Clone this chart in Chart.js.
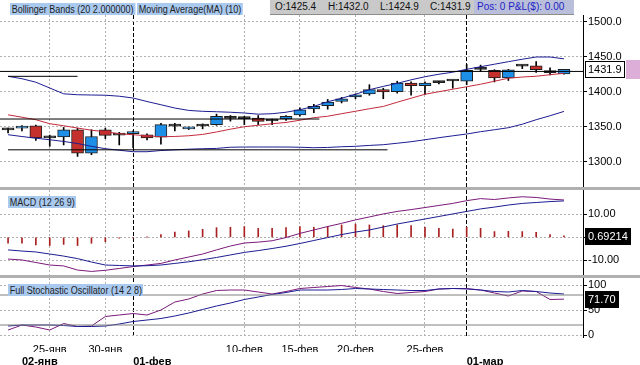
<!DOCTYPE html>
<html>
<head>
<meta charset="utf-8">
<script src="https://cdn.jsdelivr.net/npm/chart.js@4.4.0/dist/chart.umd.min.js"></script>
<style>
body { margin: 0; background: #fff; width: 640px; height: 365px; overflow: hidden; position: relative; font-family: 'Liberation Sans', Arial, sans-serif; }
canvas { position: absolute; left: 0; }
.tag { position: absolute; background: #a9c9ef; color: #1e1e1e; font: 11px 'Liberation Sans', Arial, sans-serif; line-height: 12px; padding: 0 2px; white-space: nowrap; transform: scaleX(0.82); transform-origin: 0 0; }
.sep { position: absolute; left: 0; width: 640px; height: 3px; background: #b0b0b0; }
#ohlc { position: absolute; left: 270px; top: 0; width: 204px; height: 14px; background: #c9c9c9; border-bottom: 1px solid #8c8c8c; }
#ohlc span { position: absolute; top: 1px; font-size: 10px; line-height: 12px; color: #111; }
#pos { position: absolute; left: 474px; top: 0; width: 97px; height: 14px; padding-left: 3px; background: #b9bedb; border-bottom: 1px solid #8c8c8c; color: #1d1dc2; font-size: 10px; line-height: 14px; }
</style>
</head>
<body>
<canvas id="price" width="640" height="172" style="top:15px"></canvas>
<div class="sep" style="top:187px"></div>
<canvas id="macd" width="640" height="85" style="top:190px"></canvas>
<div class="sep" style="top:275px"></div>
<canvas id="stoch" width="640" height="87" style="top:278px"></canvas>

<div class="tag" style="left:10px;top:3px">Bollinger Bands (20 2.000000)</div>
<div class="tag" style="left:137px;top:3px">Moving Average(MA) (10)</div>
<div id="ohlc"><span id="o" style="left:5px"></span><span id="h" style="left:58px"></span><span id="l" style="left:110px"></span><span id="c" style="left:160px"></span></div>
<div id="pos">Pos: 0 P&amp;L($): 0.00</div>
<div class="tag" style="left:8px;top:196px">MACD (12 26 9)</div>
<div class="tag" style="left:8px;top:284px">Full Stochastic Oscillator (14 2 8)</div>

<script>
// daily bars, index 0 = 21 Jan
const opens  = [1345.5, 1348, 1351.4, 1334, 1335.3, 1345.7, 1312.4, 1345.7, 1338, 1340.2,
                1338.6, 1335, 1350.8, 1347, 1351, 1353, 1362, 1361.6, 1362.4, 1358.2,
                1361, 1367, 1375.3, 1380, 1386, 1392.4, 1396.7, 1402.9, 1400, 1412.4,
                1408.6, 1413, 1415.3, 1415, 1432, 1430.5, 1419.6, 1436.5, 1437, 1427.2, 1425.4];
const highs  = [1348, 1351.5, 1352.5, 1338, 1349, 1348, 1345.7, 1348, 1342, 1344,
                1340, 1355, 1355, 1349.5, 1354, 1368, 1366, 1365, 1366, 1361,
                1366, 1377, 1382, 1389, 1392, 1397, 1410, 1405, 1415, 1414,
                1414, 1415, 1416.5, 1439, 1438, 1431.5, 1432, 1438, 1443, 1434, 1432];
const lows   = [1341, 1344, 1330.5, 1322, 1324, 1307.6, 1310, 1333, 1324, 1320,
                1331, 1325, 1344, 1346, 1347, 1352, 1358, 1353, 1353, 1353,
                1359, 1365, 1370, 1375, 1384, 1390, 1395, 1390, 1398, 1395,
                1396, 1411, 1405, 1410, 1429, 1414, 1416, 1433, 1427.6, 1424, 1424.9];
const closes = [1346.5, 1350.5, 1334, 1334.8, 1345.7, 1312.4, 1336, 1337.6, 1338.6, 1341.5,
                1334, 1353, 1351.8, 1349, 1351.6, 1365, 1363, 1362.4, 1357.6, 1359,
                1364.7, 1374.3, 1379, 1385.3, 1390, 1395.7, 1402.9, 1399.6, 1412.4, 1408.6,
                1412.4, 1414, 1416, 1430.5, 1432.8, 1419.6, 1431.4, 1437.5, 1431.4, 1428, 1431.9];

const bbUpper = [1422, 1418.6, 1413.6, 1405.3, 1397, 1395.7, 1395.3, 1395, 1393.6, 1391,
                 1386, 1381.4, 1376.7, 1373.3, 1372, 1371.4, 1370.7, 1369.6, 1367.9, 1368.6,
                 1370.7, 1374.3, 1379, 1385.7, 1390.7, 1396.4, 1402.9, 1407.6, 1412, 1417,
                 1421.4, 1425, 1427.9, 1432, 1435.7, 1439.3, 1442.9, 1446.4, 1449.6, 1449.6, 1447];
const bbLower = [1338.6, 1336, 1333.6, 1331.4, 1329, 1326, 1322, 1318.6, 1316.4, 1314.3,
                 1314.3, 1316, 1317, 1317.9, 1318.6, 1319, 1320.7, 1321, 1321, 1321,
                 1321, 1320.7, 1320, 1320.4, 1321.4, 1322, 1323.3, 1324.3, 1326.4, 1328.6,
                 1331.4, 1334.3, 1337, 1339.6, 1342.9, 1345.7, 1348.6, 1353.6, 1360, 1365.7, 1371.9];
const ma10    = [1367, 1363.6, 1360, 1354.3, 1351.4, 1348.1, 1345, 1342.9, 1340, 1338.6,
                 1337.1, 1335.7, 1336.1, 1337.1, 1339, 1342.5, 1346.5, 1350, 1352.1, 1354.3,
                 1356.1, 1359.3, 1362.9, 1365, 1368.6, 1372.1, 1375.7, 1379, 1385, 1390.7,
                 1396.4, 1400, 1403.6, 1407.1, 1410.7, 1415, 1419.3, 1421, 1422.1, 1424.3, 1426.4];

// drawn horizontal lines: price level, first and last bar index
const levelPrices = [1429, 1422, 1361, 1317];
const levelFrom   = [-0.58, 0, -0.58, 0];
const levelTo     = [41.37, 5, 22.4, 27.3];

const macdLine   = [-9.5, -9.9, -11, -12.1, -12.5, -14.3, -14.9, -14.4, -13.6, -12.8,
                    -12.1, -11.4, -9.9, -8.6, -7.3, -5.5, -3.8, -2.5, -2.1, -1.5,
                    -0.1, 1.7, 3.2, 4.7, 6.1, 7.6, 8.9, 10.2, 11.3, 12.1,
                    13.0, 13.9, 14.8, 16.0, 16.9, 16.5, 17.2, 17.7, 17.4, 16.7, 16.3];
const signalLine = [-5.5, -6.0, -6.4, -7.3, -8.2, -9.3, -10.8, -12.1, -12.3, -12.5,
                    -12.4, -12.1, -11.4, -10.7, -9.8, -8.8, -7.7, -6.6, -5.8, -4.9,
                    -3.9, -2.7, -1.4, -0.1, 1.2, 2.3, 3.2, 4.5, 5.8, 6.9,
                    8.0, 9.1, 10.2, 11.3, 12.4, 13.2, 14.1, 14.8, 15.2, 15.6, 15.9];
const macdHist   = [-2.6, -2.6, -3.3, -3.6, -3.1, -3.6, -2.6, -1.9, -0.4, -0.1,
                    0.1, 1.2, 2.3, 2.8, 3.5, 4.2, 4.4, 4.7, 3.9, 3.9,
                    4.2, 4.7, 4.4, 4.8, 5.4, 5.8, 5.4, 5.1, 5.4, 5.1,
                    4.4, 3.9, 3.6, 4.4, 3.9, 2.5, 2.6, 2.5, 2.2, 1.2, 0.69214];

const stochK = [10, 20, 16, 10, 23, 17, 18, 37, 40, 43, 40, 50, 66, 72, 82, 89, 90, 90, 86, 82,
                87, 93, 95, 97, 99, 95, 92, 87, 83, 85, 87, 92, 93, 93, 90, 84, 78, 88, 87, 71, 71.7];
const stochD = [18, 20, 20, 20, 19, 17, 17, 18, 22, 27, 30, 33, 38, 44, 51, 58, 64, 71, 76, 81,
                85, 90, 90, 90, 91, 93, 92, 91, 90, 89, 89, 92, 93, 92, 90, 87, 86, 89, 87, 84, 82];
const stochLevels = [20, 80];

const priceTicks = [1300, 1350, 1400, 1450, 1500];
const macdTicks  = [-10, 0, 10];
const stochTicks = [0, 50, 100];

const gridIdx  = [3, 7, 9, 17, 21, 25, 30, 33];
const monthIdx = [9, 33];
const dateTickIdx    = [3, 7, 17, 21, 25, 30];
const dateTickLabels = ['25-янв', '30-янв', '10-фев', '15-фев', '20-фев', '25-фев'];
const monthTickIdx    = [1, 9, 33];
const monthTickLabels = ['02-янв', '01-фев', '01-мар'];

const xMin = -0.58, xMax = 41.37;
const last = closes.length - 1;

document.getElementById('o').textContent = 'O:' + opens[last].toFixed(1);
document.getElementById('h').textContent = 'H:' + highs[last].toFixed(1);
document.getElementById('l').textContent = 'L:' + lows[last].toFixed(1);
document.getElementById('c').textContent = 'C:' + closes[last].toFixed(1);

Chart.defaults.font.family = "'Liberation Sans', Arial, sans-serif";
Chart.defaults.font.size = 11;
Chart.defaults.color = '#000';
Chart.defaults.animation = false;
Chart.defaults.plugins.legend.display = false;
Chart.defaults.plugins.tooltip.enabled = false;
Chart.defaults.elements.point.radius = 0;
Chart.defaults.elements.line.borderWidth = 1;
Chart.defaults.elements.line.tension = 0;

const idx = closes.map((_, i) => i);
const pts = arr => arr.map((v, i) => ({x: i, y: v}));
const isMonth = c => !!(c.tick && monthIdx.includes(c.tick.value));
const noPad = s => { s.paddingTop = 0; s.paddingBottom = 0; s.paddingLeft = 0; s.paddingRight = 0; };

function candleColor(i) {
    let d = closes[i] - opens[i];
    if (Math.abs(d) <= 1) return '#101010';
    return d > 0 ? '#1e8fe6' : '#c6302c';
}

function xScale(extra) {
    return Object.assign({
        type: 'linear', min: xMin, max: xMax, offset: false,
        afterBuildTicks: s => { s.ticks = gridIdx.map(v => ({value: v})); },
        ticks: {display: false},
        grid: {color: c => isMonth(c) ? '#000' : '#b0b0b0', drawTicks: false, offset: false},
        border: {display: false, dash: c => isMonth(c) ? [4, 2] : [2, 2]},
        afterFit: s => { s.height = 0; noPad(s); }
    }, extra);
}

function yScale(min, max, ticks, fmt) {
    return {
        position: 'right', min: min, max: max,
        afterBuildTicks: s => { s.ticks = ticks.map(v => ({value: v})); },
        afterFit: s => { s.width = 57; noPad(s); },
        ticks: {callback: fmt, padding: 1, font: {size: 11}},
        grid: {color: '#b0b0b0', tickColor: '#000', tickLength: 4},
        border: {color: '#000', dash: [2, 2]}
    };
}

function lineSet(arr, color) {
    return {type: 'line', data: pts(arr), borderColor: color, order: -1};
}

function flatLine(level, from, to, color) {
    return {type: 'line', data: [{x: from, y: level}, {x: to, y: level}], borderColor: color, order: -2};
}

const valueBox = {
    id: 'valueBox',
    afterDraw(chart, args, o) {
        if (!o.text) return;
        let ctx = chart.ctx;
        let ys = chart.scales.y;
        let y = Math.round(ys.getPixelForValue(o.value));
        let x = ys.left + 2;
        ctx.save();
        ctx.font = "11px 'Liberation Sans', Arial";
        let w = Math.round(ctx.measureText(o.text).width) + 6;
        ctx.fillStyle = o.bg;
        ctx.fillRect(x, y - 8, w, 17);
        if (o.frame) {
            ctx.strokeStyle = '#000';
            ctx.lineWidth = 1;
            ctx.strokeRect(x + 0.5, y - 7.5, w - 1, 16);
        }
        if (o.tail) {
            ctx.fillStyle = o.tail;
            ctx.fillRect(x + w + 1, y - 9, chart.width - x - w - 1, 19);
        }
        ctx.fillStyle = o.color;
        ctx.textBaseline = 'middle';
        ctx.fillText(o.text, x + 3, y + 1);
        ctx.restore();
    }
};

const baseOpts = {responsive: false, maintainAspectRatio: false, layout: {padding: 0}};

new Chart(document.getElementById('price'), {
    type: 'bar',
    plugins: [valueBox],
    data: {
        datasets: [
            lineSet(bbUpper, '#1c1c92'),
            lineSet(bbLower, '#1c1c92'),
            lineSet(ma10, '#c42a3a'),
            ...levelPrices.map((p, k) => flatLine(p, levelFrom[k], levelTo[k], '#000')),
            {
                data: idx.map(i => ({x: i, y: [opens[i], closes[i]]})),
                backgroundColor: idx.map(candleColor), borderColor: '#1e1e1e', borderWidth: 1,
                borderSkipped: false, barThickness: 12, minBarLength: 2, grouped: false, order: 0
            },
            {
                data: idx.map(i => ({x: i, y: [lows[i], highs[i]]})),
                backgroundColor: '#000', barThickness: 1, grouped: false, order: 1
            }
        ]
    },
    options: Object.assign({}, baseOpts, {
        scales: {
            x: xScale(),
            y: yScale(1263.9, 1509.6, priceTicks, v => v.toFixed(1))
        },
        plugins: {valueBox: {value: closes[last], text: closes[last].toFixed(1), bg: '#fff', color: '#000', frame: true, tail: '#dcaed8'}}
    })
});

new Chart(document.getElementById('macd'), {
    type: 'bar',
    plugins: [valueBox],
    data: {
        datasets: [
            lineSet(signalLine, '#1c1c92'),
            lineSet(macdLine, '#7a1a7a'),
            {data: pts(macdHist), backgroundColor: '#a82020', barThickness: 1, grouped: false, order: 1}
        ]
    },
    options: Object.assign({}, baseOpts, {
        scales: {
            x: xScale(),
            y: yScale(-16.46, 20.66, macdTicks, v => v === 0 ? '' : v.toFixed(2))
        },
        plugins: {valueBox: {value: macdHist[last], text: macdHist[last].toFixed(5), bg: '#000', color: '#fff'}}
    })
});

new Chart(document.getElementById('stoch'), {
    type: 'line',
    plugins: [valueBox],
    data: {
        datasets: [
            ...stochLevels.map(v => flatLine(v, xMin, xMax, '#808080')),
            lineSet(stochD, '#1c1c92'),
            lineSet(stochK, '#7a1a7a')
        ]
    },
    options: Object.assign({}, baseOpts, {
        scales: {
            x: xScale({
                ticks: {
                    display: true, autoSkip: false, maxRotation: 0, padding: 6,
                    callback: v => { let k = dateTickIdx.indexOf(v); return k < 0 ? '' : dateTickLabels[k]; }
                },
                afterFit: s => { s.height = 15; noPad(s); }
            }),
            x2: {
                type: 'linear', position: 'bottom', min: xMin, max: xMax, offset: false,
                afterBuildTicks: s => { s.ticks = monthTickIdx.map(v => ({value: v})); },
                grid: {display: false, drawTicks: false},
                border: {display: false},
                ticks: {
                    autoSkip: false, maxRotation: 0, align: 'start', padding: 3,
                    font: {size: 11, weight: 'bold'},
                    callback: v => monthTickLabels[monthTickIdx.indexOf(v)]
                },
                afterFit: s => { s.height = 13; noPad(s); }
            },
            y: yScale(-4, 114, stochTicks, v => String(v))
        },
        plugins: {valueBox: {value: stochK[last], text: stochK[last].toFixed(2), bg: '#000', color: '#fff'}}
    })
});
</script>
</body>
</html>
